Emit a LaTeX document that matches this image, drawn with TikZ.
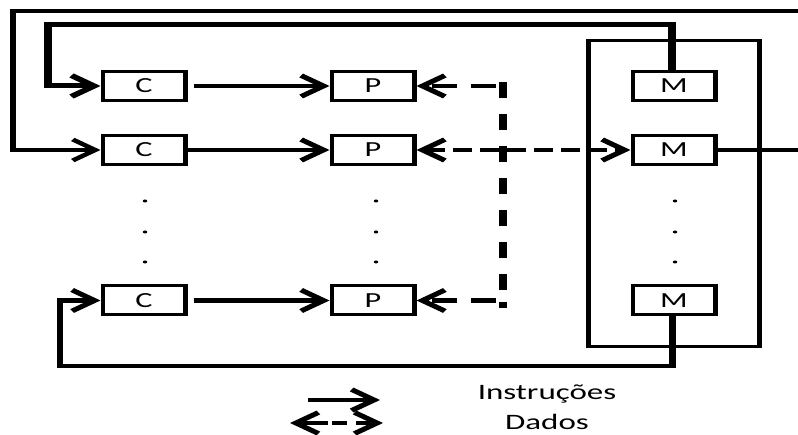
\documentclass[tikz,border=0pt]{standalone}
\usepackage{fontspec}
\setmainfont{Carlito}
\usetikzlibrary{arrows.meta}
\begin{document}
\begin{tikzpicture}
\useasboundingbox[fill=white] (0,0) rectangle (798pt,-435pt);
% vertical dashed data line (drawn outside the stretched canvas, as explicit dashes)
\coordinate (vTop) at (503pt,-82pt);
\coordinate (vBot) at (503pt,-308pt);
\draw[line width=7.5pt]
  \foreach \ya in {82,114,146,178,210,242,274}{ (503pt,-\ya pt) -- ++(0,-16pt) }
  (503pt,-302pt) -- (vBot);
\begin{scope}[transform canvas={xscale=1.5}, x=0.666667pt, y=-1pt,
  box/.style={draw, line width=3pt, minimum width=55pt, minimum height=29pt,
    inner sep=0pt, font=\fontsize{21.5}{21.5}\selectfont},
  tip/.style={-{Straight Barb[length=15pt,width=21pt]}},
  dtip/.style={{Straight Barb[length=15pt,width=21pt]}-{Straight Barb[length=15pt,width=21pt]}},
  solidline/.style={line width=4.5pt, tip},
  hdash/.style={line width=4.5pt, dash pattern=on 17pt off 9pt},
  lbl/.style={inner sep=0pt, font=\fontsize{22}{22}\selectfont}]

% memory container
\node[draw, line width=3.2pt, minimum width=114pt, minimum height=306pt, inner sep=0pt] (mem) at (674,193.5) {};

% boxes
\node[box] (C1) at (144,86) {C};
\node[box] (C2) at (144,150) {C};
\node[box] (C3) at (144,300.5) {C};
\node[box] (P1) at (373,86) {P};
\node[box] (P2) at (373,150) {P};
\node[box] (P3) at (373,300.5) {P};
\node[box] (M1) at (674,86) {M};
\node[box] (M2) at (674,150) {M};
\node[box] (M3) at (674,300.5) {M};

% free ends
\coordinate (outerR) at (798,11);
\coordinate (outerL) at (13,11);
\coordinate (innerL) at (48,25);
\coordinate (botL) at (60,366);
\coordinate (rightE) at (798,150);
\coordinate (d1) at (496,86);
\coordinate (d3) at (496,300.5);

% instruction loops
\draw[solidline, line width=4pt] (outerR) -- (outerL) |- (C2.west);
\draw[solidline, line width=5pt] ([xshift=-1.5pt]M1.north) |- (innerL) |- (C1.west);
\draw[solidline] ([xshift=-1pt]M3.south) |- (botL) |- (C3.west);
\draw[line width=4pt] (M2.east) -- (rightE);

% C -> P
\draw[solidline] ([xshift=4pt]C1.east) -- (P1.west);
\draw[solidline] (C2.east) -- (P2.west);
\draw[solidline] ([xshift=4pt]C3.east) -- (P3.west);

% data (dashed)
\draw[hdash, tip] (d1) -- (P1.east);
\draw[hdash, tip] (d3) -- (P3.east);
\draw[hdash, dash pattern=on 13pt off 5pt, dtip] (P2.east) -- (M2.west);

% dots
\foreach \yy in {201,232,262}{
  \fill (145,\yy) circle (1.5pt);
  \fill (376,\yy) circle (1.5pt);
  \fill (675,\yy) circle (1.5pt);
}

% legend
\coordinate (la) at (308,400);
\coordinate (lb) at (380,400);
\coordinate (lc) at (290,423);
\coordinate (ld) at (383,423);
\draw[solidline] (la) -- (lb);
\draw[line width=4.5pt, dtip, dash pattern=on 19pt off 3pt on 10pt off 6pt on 40pt] (lc) -- (ld);
\node[lbl] (tI) at (547,394) {Instruções};
\node[lbl] (tD) at (547,422) {Dados};
\end{scope}
\end{tikzpicture}
\end{document}
